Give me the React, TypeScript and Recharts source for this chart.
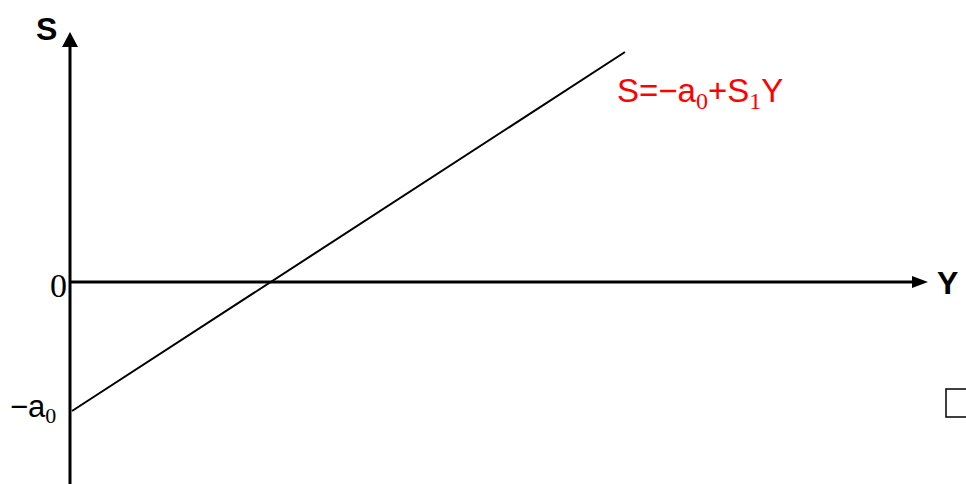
import { ComposedChart, Line, XAxis, YAxis, ReferenceLine, ReferenceDot, ReferenceArea } from 'recharts';

// saving function S = -a0 + S1*Y (1 unit ~ 1px)
const INCOME = [2, 555];
const SAVING = [-129, 230];
const INTERCEPT = -129;
const AXIS_TOP = 235;
const AXIS_RIGHT = 842;

const SANS = '"Liberation Sans", Arial, sans-serif';
const SERIF = '"Liberation Serif", "Times New Roman", serif';

const data = INCOME.map((y, i) => ({ y, s: SAVING[i] }));

const Up = ({ cx, cy }: any) => (
  <polygon points={`${cx},${cy} ${cx - 8},${cy + 15} ${cx + 8},${cy + 15}`} fill="#000" />
);
const Right = ({ cx, cy }: any) => (
  <polygon points={`${cx},${cy} ${cx - 16},${cy - 6} ${cx - 16},${cy + 6}`} fill="#000" />
);

// label anchors: no circle of their own, only the text
const noDot = { r: 0, fill: 'none', stroke: 'none' };

export default function App() {
  return (
    <div style={{ position: 'absolute', left: 0, top: 0, background: '#fff' }}>
      <ComposedChart width={966} height={484} data={data} margin={{ top: 0, right: 0, bottom: 0, left: 0 }}>
        <XAxis type="number" dataKey="y" domain={[-70, 896]} hide allowDataOverflow />
        <YAxis type="number" domain={[-202, 282]} hide allowDataOverflow />
        <ReferenceLine
          segment={[{ x: 0, y: -202 }, { x: 0, y: AXIS_TOP }]}
          stroke="#000"
          strokeWidth={3}
        />
        <ReferenceLine
          segment={[{ x: 0, y: 0 }, { x: AXIS_RIGHT, y: 0 }]}
          stroke="#000"
          strokeWidth={3}
        />
        <ReferenceDot x={0} y={250} shape={Up} />
        <ReferenceDot x={858} y={0} shape={Right} />
        <Line
          dataKey="s"
          stroke="#000"
          strokeWidth={2}
          dot={false}
          activeDot={false}
          isAnimationActive={false}
        />
        <ReferenceDot
          x={0}
          y={250}
          {...noDot}
          shape={({ cx, cy }: any) => (
            <text x={cx - 34} y={cy + 8} fontFamily={SANS} fontWeight="bold" fontSize={32} fill="#000">S</text>
          )}
        />
        <ReferenceDot
          x={858}
          y={0}
          {...noDot}
          shape={({ cx, cy }: any) => (
            <text x={cx + 9} y={cy + 12} fontFamily={SANS} fontWeight="bold" fontSize={32} fill="#000">Y</text>
          )}
        />
        <ReferenceDot
          x={0}
          y={0}
          {...noDot}
          shape={({ cx, cy }: any) => (
            <text x={cx - 3} y={cy + 15} textAnchor="end" fontFamily={SERIF} fontSize={34} fill="#000">0</text>
          )}
        />
        <ReferenceDot
          x={-40}
          y={INTERCEPT}
          {...noDot}
          shape={({ cx, cy }: any) => (
            <text x={cx - 20} y={cy + 6} fontFamily={SANS} fontSize={31} fill="#000">
              −a<tspan fontFamily={SERIF} fontSize={22} dy={6}>0</tspan>
            </text>
          )}
        />
        <ReferenceDot
          x={547}
          y={180}
          {...noDot}
          shape={({ cx, cy }: any) => (
            <text x={cx} y={cy} fontFamily={SANS} fontSize={33} fill="#ff0000">
              S=−a<tspan fontFamily={SERIF} fontSize={24} dy={7}>0</tspan>
              <tspan dy={-7}>+S</tspan>
              <tspan fontFamily={SERIF} fontSize={24} dy={7}>1</tspan>
              <tspan dy={-7}>Y</tspan>
            </text>
          )}
        />
        <ReferenceArea
          x1={876}
          x2={930}
          y1={-135}
          y2={-107}
          fill="none"
          stroke="#000"
          strokeWidth={1.5}
          ifOverflow="visible"
        />
      </ComposedChart>
    </div>
  );
}
